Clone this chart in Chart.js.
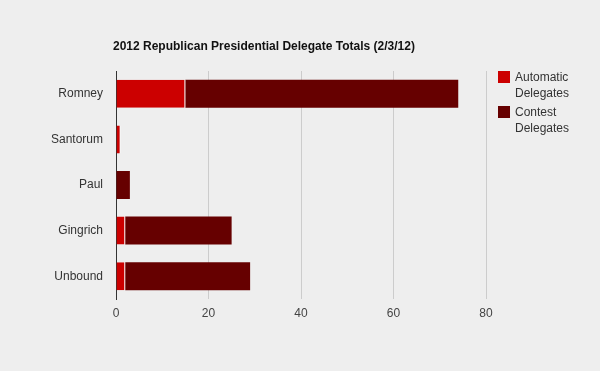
<!DOCTYPE html>
<html>
<head>
<meta charset="utf-8">
<script src="https://cdn.jsdelivr.net/npm/chart.js@4/dist/chart.umd.min.js"></script>
<style>
  html, body { margin:0; padding:0; background:#eeeeee; }
  #wrap { position:relative; width:600px; height:371px; }
  canvas { position:absolute; left:0; top:0; }
  #title { position:absolute; left:113px; top:39px; font:bold 12px "Liberation Sans", Arial, sans-serif; color:#111; white-space:nowrap; }
  .leg { position:absolute; left:498px; font:12px "Liberation Sans", Arial, sans-serif; color:#333; line-height:16px; }
  .leg .sw { position:absolute; left:0; top:2px; width:12px; height:12px; }
  .leg .tx { position:absolute; left:17px; top:0px; white-space:nowrap; }
</style>
</head>
<body>
<div id="wrap">
  <canvas id="c" width="600" height="371"></canvas>
  <div id="title">2012 Republican Presidential Delegate Totals (2/3/12)</div>
  <div class="leg" style="top:69px"><div class="sw" style="background:#cc0000"></div><div class="tx">Automatic<br>Delegates</div></div>
  <div class="leg" style="top:104px"><div class="sw" style="background:#660000"></div><div class="tx">Contest<br>Delegates</div></div>
</div>
<script>
const categories = ["Romney", "Santorum", "Paul", "Gingrich", "Unbound"];
const automaticDelegates = [15, 1, 0, 2, 2];
const contestDelegates = [59, 0, 3, 23, 27];
const xTicks = [0, 20, 40, 60, 80];

new Chart(document.getElementById('c'), {
  type: 'bar',
  data: {
    labels: categories,
    datasets: [
      { label: 'Automatic Delegates', data: automaticDelegates, backgroundColor: '#cc0000',
        borderColor: '#ffffff', borderWidth: {right: 1, left: 0, top: 0, bottom: 0}, borderSkipped: false },
      { label: 'Contest Delegates', data: contestDelegates, backgroundColor: '#660000', borderWidth: 0 }
    ]
  },
  options: {
    indexAxis: 'y',
    responsive: false,
    animation: false,
    layout: { padding: { left: 0, right: 114, top: 71, bottom: 0 } },
    datasets: { bar: { barPercentage: 0.615, categoryPercentage: 1 } },
    plugins: { legend: { display: false }, title: { display: false }, tooltip: { enabled: false } },
    scales: {
      x: {
        stacked: true, min: 0, max: 80,
        afterBuildTicks: (axis) => { axis.ticks = xTicks.map(v => ({ value: v })); },
        afterFit: (axis) => { axis.height = 72; },
        grid: { color: '#cccccc', drawTicks: false, lineWidth: 1 },
        border: { display: false },
        ticks: { padding: 7, color: '#444', font: { family: '"Liberation Sans", Arial, sans-serif', size: 12 } }
      },
      y: {
        stacked: true,
        afterFit: (axis) => { axis.width = 116; },
        grid: { display: false, drawTicks: false },
        border: { display: true, color: '#333333', width: 1 },
        ticks: { padding: 13, color: '#333', font: { family: '"Liberation Sans", Arial, sans-serif', size: 12 } }
      }
    }
  }
});
</script>
</body>
</html>
